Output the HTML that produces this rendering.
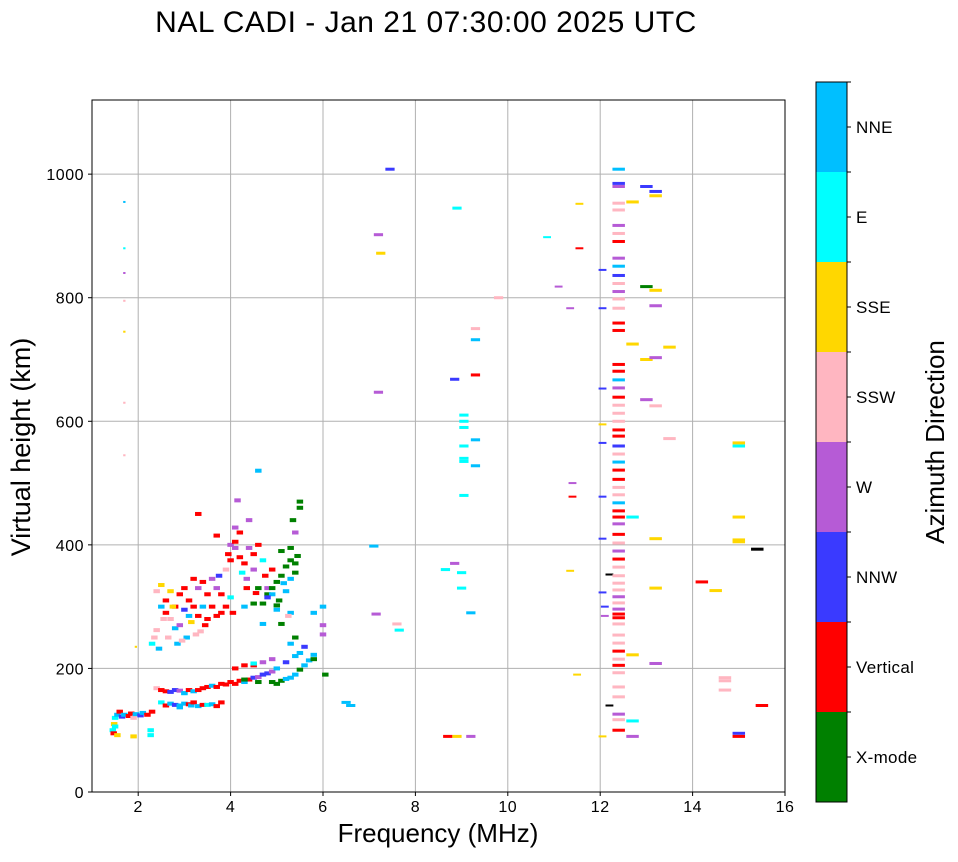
<!DOCTYPE html>
<html><head><meta charset="utf-8"><style>
body{margin:0;background:#fff;font-family:"Liberation Sans",sans-serif}
svg text{font-family:"Liberation Sans",sans-serif}
</style></head><body>
<svg id="c" width="958" height="857"></svg>
<script>
const xTicks=[2,4,6,8,10,12,14,16];
const yTicks=[0,200,400,600,800,1000];
const dirLabels=["X-mode","Vertical","NNW","W","SSW","SSE","E","NNE"];
const dirColors=["#008000","#ff0000","#3a3aff","#b65bd6","#ffb6c1","#ffd700","#00ffff","#00bfff","#000000"];
// each echo: [frequency MHz, virtual height km, direction index]
const lowLayer=[[1.45,100,6],[1.47,95,1],[1.48,110,5],[1.5,120,6],[1.55,125,7],[1.6,130,1],[1.65,122,2],[1.7,125,7],[1.8,123,1],[1.85,127,1],[1.9,120,4],[1.95,126,7],[2.05,124,2],[2.1,128,7],[2.2,125,1],[2.3,130,1],[2.27,100,6],[2.27,92,6],[1.55,92,5],[1.9,90,5],[1.5,106,6],
[2.5,145,6],[2.6,140,1],[2.7,143,7],[2.8,141,2],[2.9,140,7],[3.0,143,7],[3.1,142,1],[3.15,140,7],[3.2,145,1],[3.3,139,7],[3.4,141,1],[3.5,141,6],[3.6,142,7],[3.7,139,1],[3.8,145,1],[3.0,160,6],[2.9,137,7]];
const eLayer=[[2.4,168,4],[2.5,165,1],[2.6,163,1],[2.7,162,2],[2.8,165,2],[2.9,164,3],[3.0,160,7],[3.1,165,1],[3.2,163,7],[3.3,165,1],[3.4,168,1],[3.5,170,1],[3.6,172,7],[3.7,170,1],[3.8,175,1],[3.9,174,1],[4.0,178,1],[4.1,175,1],[4.2,180,1],[4.3,178,7],[4.4,182,1],[4.5,185,2],[4.6,186,3],[4.7,190,2],[4.8,192,2],[4.9,195,3],[4.1,200,1],[4.3,205,1],[4.5,205,1],[4.7,210,3],[4.9,215,3],
[4.9,178,0],[5.0,175,0],[5.1,180,0],[5.2,183,7],[5.3,185,7],[5.4,190,7],[5.5,198,0],[5.6,205,7],[5.7,213,7],[5.8,222,7],[5.0,200,7],[5.2,210,2],[5.4,220,7],[5.5,225,7],[5.6,235,2],[5.3,240,7],[5.4,250,0],[5.8,215,0],[5.8,290,7],[6.0,300,7],[6.0,270,3],[6.0,255,3],[6.05,190,0],[4.5,208,6],[4.3,182,0],[4.6,178,0]];
const fLayer=[[2.3,240,6],[2.35,250,4],[2.4,262,4],[2.45,232,7],[2.5,300,7],[2.4,325,4],[2.5,335,5],[2.6,310,1],[2.6,290,1],[2.7,280,4],[2.7,325,5],[2.8,300,1],[2.8,265,7],[2.85,240,7],[2.9,320,1],[2.9,270,3],[3.0,330,1],[3.0,295,2],[3.05,250,7],[3.1,285,7],[3.1,310,1],[3.2,345,1],[3.2,300,1],[3.25,255,4],[3.3,330,3],[3.3,285,1],[3.4,340,1],[3.4,300,7],[3.45,270,1],[3.5,320,1],[3.5,280,1],[3.6,345,3],[3.6,300,1],[3.7,330,3],[3.7,285,1],[3.75,350,2],[3.8,320,1],[3.8,290,1],[3.9,360,4],[3.9,300,1],[4.0,375,1],[4.0,315,6],[4.05,290,1],[2.55,280,4],[2.65,250,4],[2.95,245,4],[3.35,260,4],[3.15,275,5],[2.75,300,5],
[4.1,395,3],[4.2,380,1],[4.3,370,1],[4.25,355,6],[4.35,330,1],[4.4,395,3],[4.5,360,3],[4.5,385,1],[4.6,400,1],[4.7,375,6],[4.75,350,1],[4.2,420,1],[4.4,440,3],[4.1,428,3],[4.15,472,3],[4.6,520,7],[4.35,345,3],[4.55,322,1],[4.8,330,3],[4.9,360,1],[3.3,450,1],[3.7,415,1],[4.0,400,3],[4.1,405,1],[3.95,385,1],
[4.7,305,0],[4.8,320,0],[4.9,330,0],[5.0,340,0],[5.1,350,0],[5.2,365,0],[5.3,375,0],[5.4,355,0],[5.05,310,0],[5.2,325,7],[5.3,345,7],[5.4,370,0],[5.5,460,0],[5.5,470,0],[5.35,440,0],[5.4,420,3],[5.1,390,0],[5.3,395,0],[5.45,382,0],[5.15,338,7],[4.9,320,7],[5.0,302,0],[4.6,330,0],[4.5,305,0],[5.0,295,7],[5.3,290,7],[4.3,300,7],[4.8,315,2],[5.1,272,0],[4.7,272,7],[5.25,285,4]];
const lowFreqSpread=[[1.7,955,7],[1.7,880,6],[1.7,840,3],[1.7,795,4],[1.7,745,5],[1.7,630,4],[1.7,545,4],[1.95,235,5]];
const midEchoes=[[6.5,145,7],[6.6,140,7],[7.1,398,7],[7.15,288,3],[7.2,902,3],[7.25,872,5],[7.2,647,3],[7.45,1008,2],[7.6,272,4],[7.65,262,6],[8.7,90,1],[8.9,90,5],[9.2,90,3],[8.65,360,6],[8.85,370,3],[9.0,355,6],[9.0,330,6],[9.2,290,7],[9.05,610,6],[9.05,600,6],[9.05,590,6],[9.05,560,6],[9.05,540,6],[9.05,535,6],[9.05,480,6],[9.3,570,7],[9.3,528,7],[9.3,732,7],[9.3,675,1],[9.3,750,4],[8.85,668,2],[8.9,945,6],[9.8,800,4]];
const nearTwelve=[[10.85,898,6],[11.1,818,3],[11.35,783,3],[11.4,500,3],[11.4,478,1],[11.35,358,5],[11.55,952,5],[11.55,880,1],[11.5,190,5],[12.05,845,2],[12.05,783,2],[12.05,653,2],[12.05,595,5],[12.05,565,2],[12.05,478,2],[12.05,410,2],[12.05,323,2],[12.2,352,8],[12.1,300,2],[12.1,285,3],[12.2,140,8],[12.05,90,5]];
const columnEchoes=[[12.4,1008,7],[12.4,985,2],[12.4,980,3],[12.4,953,4],[12.4,942,4],[12.4,917,3],[12.4,904,4],[12.4,891,1],[12.4,864,3],[12.4,851,7],[12.4,836,2],[12.4,823,4],[12.4,810,3],[12.4,798,4],[12.4,783,4],[12.4,759,1],[12.4,747,1],[12.4,692,1],[12.4,681,1],[12.4,667,7],[12.4,654,3],[12.4,639,1],[12.4,626,4],[12.4,613,4],[12.4,600,4],[12.4,586,1],[12.4,576,1],[12.4,560,2],[12.4,547,4],[12.4,534,7],[12.4,521,1],[12.4,506,1],[12.4,493,4],[12.4,481,4],[12.4,468,7],[12.4,455,1],[12.4,445,1],[12.4,434,3],[12.4,417,1],[12.4,403,4],[12.4,390,3],[12.4,377,1],[12.4,364,4],[12.4,350,4],[12.4,338,4],[12.4,327,4],[12.4,316,3],[12.4,306,4],[12.4,296,3],[12.4,288,1],[12.4,282,1],[12.4,272,4],[12.4,254,4],[12.4,241,4],[12.4,228,1],[12.4,215,4],[12.4,205,1],[12.4,193,4],[12.4,170,4],[12.4,154,4],[12.4,126,3],[12.4,117,4],[12.4,100,1]];
const highEchoes=[[12.7,955,5],[12.7,725,5],[12.7,445,6],[12.7,222,5],[12.7,115,6],[12.7,90,3],[13.0,980,2],[13.0,818,0],[13.0,700,5],[13.0,635,3],[13.2,972,2],[13.2,965,5],[13.2,812,5],[13.2,787,3],[13.2,703,3],[13.2,625,4],[13.2,410,5],[13.2,330,5],[13.5,720,5],[13.5,572,4],[13.2,208,3],[14.2,340,1],[14.5,326,5],[14.7,185,4],[14.7,180,4],[14.7,165,4],[15.0,565,5],[15.0,560,6],[15.0,445,5],[15.0,408,5],[15.0,405,5],[15.0,95,2],[15.0,90,1],[15.4,393,8],[15.5,140,1]];

const NS="http://www.w3.org/2000/svg";
const svg=document.getElementById('c');
const L=92,R=785,T=100,B=792,XMIN=1,XMAX=16,YMIN=0,YMAX=1120;
const pxPerMHz=(R-L)/(XMAX-XMIN);
const sx=f=>L+(f-XMIN)/(XMAX-XMIN)*(R-L);
const sy=h=>B-(h-YMIN)/(YMAX-YMIN)*(B-T);
function mk(tag,attrs,parent){const e=document.createElementNS(NS,tag);for(const k in attrs)e.setAttribute(k,attrs[k]);(parent||svg).appendChild(e);return e;}

const title=mk('text',{x:426,y:32,'font-size':30,'text-anchor':'middle',fill:'#000','letter-spacing':0.5});title.textContent='NAL CADI - Jan 21 07:30:00 2025 UTC';



const grid=mk('g',{});


xTicks.forEach(t=>{if(t<XMAX)mk('line',{x1:sx(t),x2:sx(t),y1:T,y2:B,stroke:'#b0b0b0','stroke-width':1},grid);});
yTicks.forEach(t=>{if(t>0)mk('line',{x1:L,x2:R,y1:sy(t),y2:sy(t),stroke:'#b0b0b0','stroke-width':1},grid);});

const marks=mk('g',{});


function drawGroup(arr,wMHz,hPx){
  arr.forEach(p=>{
    const f=p[0],h=p[1],c=p[2];
    const r=mk('rect',{x:sx(f)-wMHz*pxPerMHz/2,y:sy(h)-hPx/2,width:wMHz*pxPerMHz,height:hPx,fill:dirColors[c]},marks);
    
    
  });
}
drawGroup(lowLayer,0.14,4);
drawGroup(eLayer,0.14,4);
drawGroup(fLayer,0.14,4);
drawGroup(lowFreqSpread,0.05,2);
drawGroup(midEchoes,0.2,3);
drawGroup(nearTwelve,0.17,2);
drawGroup(columnEchoes,0.27,3);
drawGroup(highEchoes,0.27,3);

const frame=mk('rect',{x:L,y:T,width:R-L,height:B-T,fill:'none',stroke:'#000','stroke-width':1});



const xax=mk('g',{});


xTicks.forEach(t=>{mk('line',{x1:sx(t),x2:sx(t),y1:B,y2:B+4,stroke:'#000'},xax);const tx=mk('text',{x:sx(t),y:B+20,'font-size':16,'text-anchor':'middle','letter-spacing':0.5},xax);tx.textContent=t;});
const yax=mk('g',{});


yTicks.forEach(t=>{mk('line',{x1:L-4,x2:L,y1:sy(t),y2:sy(t),stroke:'#000'},yax);const tx=mk('text',{x:L-8,y:sy(t)+6,'font-size':16,'text-anchor':'end','letter-spacing':0.5},yax);tx.textContent=t;});
const xt=mk('text',{x:438,y:842,'font-size':26,'text-anchor':'middle'});xt.textContent='Frequency (MHz)';


const yt=mk('text',{x:0,y:0,'font-size':27,'text-anchor':'middle',transform:'translate(30,447) rotate(-90)'});yt.textContent='Virtual height (km)';



const cb=mk('g',{});


const CT=82,CB=802,CL=816,CW=31,seg=(CB-CT)/8;
dirLabels.forEach((lab,i)=>{
  const y0=CB-(i+1)*seg;
  const r=mk('rect',{x:CL,y:y0,width:CW,height:seg,fill:dirColors[i]},cb);
  
  
  mk('line',{x1:CL+CW,x2:CL+CW+4,y1:y0+seg/2,y2:y0+seg/2,stroke:'#000'},cb);
  mk('line',{x1:CL+CW,x2:CL+CW+4,y1:y0,y2:y0,stroke:'#000'},cb);
  const t=mk('text',{x:CL+CW+9,y:y0+seg/2+6,'font-size':17,'letter-spacing':0.3},cb);t.textContent=lab;
});
mk('rect',{x:CL,y:CT,width:CW,height:CB-CT,fill:'none',stroke:'#000'},cb);
const ct=mk('text',{x:0,y:0,'font-size':26,'text-anchor':'middle',transform:'translate(944,442) rotate(-90)'});ct.textContent='Azimuth Direction';


</script>
</body></html>
